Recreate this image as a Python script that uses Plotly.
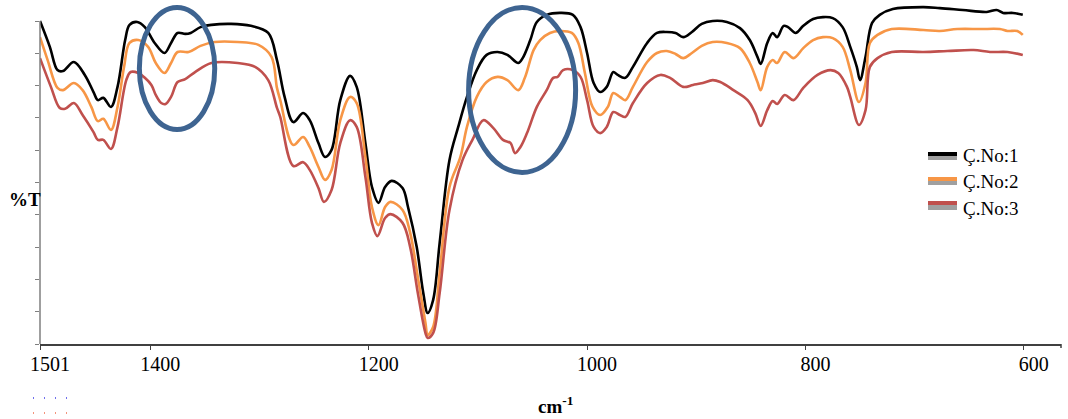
import plotly.graph_objects as go

# ---------------- data (wavenumber cm-1, %T) ----------------
wn1 = [1501,1492,1485,1480,1470,1460,1452,1448,1443,1436,1430,1423,1419,1412,1405,1396,1387,1381,1375,1368,
       1363,1354,1344,1326,1308,1292,1284,1277,1269,1260,1254,1246,1240,1234,1226,1217,1211,1203,1197,1191,
       1185,1179,1169,1164,1156,1150,1146,1141,1135,1126,1118,1110,1101,1092,1082,1073,1063,1059,1052,1046,
       1037,1025,1013,1006,1000,994,988,982,976,972,965,958,945,936,927,919,912,904,895,885,
       872,860,851,844,841,835,830,826,820,816,809,802,793,784,775,766,759,753,750,745,
       739,732,720,692,677,656,634,625,619,610,601]
t1 = [100.0,92.0,84.8,84.5,87.3,83.3,78.0,75.5,76.2,73.4,79.6,94.1,98.8,99.7,98.1,93.2,90.1,93.2,96.3,96.0,
      96.3,98.1,98.8,99.1,98.5,96.3,87.9,76.5,68.7,71.5,69.3,62.2,57.9,60.1,75.5,83.0,79.6,62.2,48.6,43.7,
      48.6,50.5,48.3,42.4,30.0,15.8,9.6,13.6,31.3,57.0,67.2,76.5,84.8,89.5,90.4,89.5,87.0,88.5,94.1,99.7,
      101.9,102.5,101.9,98.1,90.1,80.8,78.0,79.6,84.2,83.3,82.4,85.8,93.2,96.3,96.6,96.3,95.0,96.6,99.1,100.0,
      99.7,97.8,94.1,88.9,86.7,93.2,96.3,95.0,98.5,98.1,96.3,98.5,100.6,101.2,100.9,98.1,92.0,85.8,81.7,88.9,
      99.4,101.9,103.7,104.3,104.0,103.4,102.8,103.4,102.5,102.5,101.9]

wn2 = [1501,1494,1485,1480,1470,1462,1454,1448,1443,1436,1430,1424,1419,1411,1402,1395,1387,1381,1375,1365,
       1354,1341,1320,1301,1289,1284,1281,1269,1260,1254,1246,1240,1234,1226,1217,1211,1203,1197,1191,1185,
       1180,1169,1162,1155,1148,1146,1141,1135,1126,1116,1110,1101,1092,1082,1073,1063,1057,1049,1043,1034,
       1025,1014,1008,1002,995,988,981,976,970,965,958,945,936,927,919,912,904,895,885,872,
       860,851,844,841,835,830,826,819,811,802,793,784,775,766,759,751,745,741,734,721,
       692,677,661,640,622,615,606,601]
t2 = [95.0,87.9,79.3,78.6,80.8,78.6,73.4,69.0,69.7,66.3,73.4,85.8,93.2,94.1,92.0,87.0,83.9,87.0,90.4,90.4,
      92.3,93.5,93.5,92.6,88.9,79.3,75.5,61.6,64.1,61.0,54.8,50.8,53.9,69.3,76.5,74.6,57.9,42.4,36.8,42.4,
      44.0,41.5,34.4,20.7,6.5,2.8,5.3,22.0,48.6,57.9,67.2,76.5,81.1,82.7,81.7,78.6,82.4,91.0,94.1,96.3,
      96.9,96.3,93.2,83.9,73.4,70.9,73.4,77.7,76.5,75.5,79.6,87.3,90.1,90.7,89.8,88.5,90.1,92.3,93.5,93.2,
      91.6,87.0,81.1,78.6,85.8,87.9,87.0,90.4,88.5,91.6,94.1,95.0,94.7,92.0,84.8,74.9,80.8,93.2,95.7,97.5,
      97.2,96.9,97.5,97.5,97.5,96.9,96.9,95.7]

wn3 = [1501,1491,1483,1478,1470,1462,1452,1448,1443,1436,1430,1422,1418,1411,1405,1399,1395,1390,1386,1381,
       1375,1368,1359,1344,1320,1304,1292,1284,1281,1269,1260,1254,1246,1241,1234,1226,1217,1211,1203,1197,
       1192,1185,1180,1169,1162,1155,1148,1146,1141,1135,1126,1114,1105,1095,1086,1077,1070,1066,1061,1055,
       1046,1037,1031,1027,1022,1013,1006,1000,994,988,982,976,970,965,958,945,933,924,912,903,
       894,885,878,866,853,846,841,835,830,826,819,811,802,789,777,770,762,759,751,745,
       741,734,721,692,670,646,631,615,601]
t3 = [88.5,79.6,73.1,72.8,74.6,70.9,65.6,63.2,63.2,60.4,67.2,81.7,84.2,83.9,82.4,80.2,77.1,74.6,74.3,76.5,
      81.1,82.0,84.2,87.0,87.0,85.8,81.7,73.1,70.3,55.1,56.3,53.9,48.3,44.0,47.7,62.2,69.3,67.2,51.7,37.5,
      33.4,39.0,40.2,37.5,30.0,15.8,3.4,1.9,3.4,15.8,41.5,57.0,63.2,69.3,66.9,63.2,62.2,59.1,61.0,65.3,
      73.4,78.6,82.4,82.7,84.8,84.8,82.7,75.5,67.2,65.3,67.2,71.8,70.9,70.3,74.6,80.8,83.3,82.4,79.6,80.2,
      80.8,81.7,81.1,78.6,75.5,71.5,67.5,72.4,75.2,74.3,77.1,75.5,79.3,83.3,84.8,83.9,79.6,76.5,67.8,72.4,
      85.8,88.5,90.4,90.4,90.7,91.0,90.4,90.4,89.5]

series_names = ["Ç.No:1", "Ç.No:2", "Ç.No:3"]
series_colors = ["#000000", "#F79646", "#C0504D"]
tick_vals = [1501, 1400, 1200, 1000, 800, 600]

SERIF = "'Liberation Serif', 'DejaVu Serif', serif"

# ---------------- layout geometry ----------------
W, H = 1068, 419
ML, MR, MT, MB = 40, 7, 0, 75
X_RANGE = [1501, 566]
Y_RANGE = [0, 106.5]
PW, PH = W - ML - MR, H - MT - MB

def px_x(px):
    return (px - ML) / PW

def px_y(py):
    return (H - MB - py) / PH

fig = go.Figure()
for wn, t, name, col in zip([wn1, wn2, wn3], [t1, t2, t3], series_names, series_colors):
    fig.add_trace(go.Scatter(x=wn, y=t, mode="lines", name=name,
                             line=dict(color=col, width=2.6, shape="spline", smoothing=1.0),
                             showlegend=False))

shapes = []
# y axis line only spanning 0..100
shapes.append(dict(type="line", xref="paper", yref="y", x0=0, x1=0, y0=0, y1=100,
                   line=dict(color="#7f7f7f", width=1.5)))
# end tick of the x axis
shapes.append(dict(type="line", xref="paper", yref="paper", x0=1, x1=1, y0=0, y1=-4 / PH,
                   line=dict(color="#404040", width=1.5)))
# highlight ellipses
shapes.append(dict(type="circle", xref="x", yref="y", x0=1410, x1=1341, y0=66.4, y1=104.2,
                   line=dict(color="#3E6491", width=5)))
shapes.append(dict(type="circle", xref="x", yref="y", x0=1108.5, x1=1010.5, y0=53.1, y1=104.2,
                   line=dict(color="#3E6491", width=5)))

# custom legend
annotations = []
leg = [(152, 156, 160, 155), (177, 181, 185, 181), (201, 205, 210, 208)]
for (a, b, c, ty), name, col in zip(leg, series_names, series_colors):
    shapes.append(dict(type="rect", xref="paper", yref="paper", x0=px_x(928), x1=px_x(957),
                       y0=px_y(b), y1=px_y(c), fillcolor="#A0A0A0", line=dict(width=0)))
    shapes.append(dict(type="rect", xref="paper", yref="paper", x0=px_x(928), x1=px_x(957),
                       y0=px_y(a), y1=px_y(b), fillcolor=col, line=dict(width=0)))
    annotations.append(dict(xref="paper", yref="paper", x=px_x(961), y=px_y(ty), text=name,
                            showarrow=False, xanchor="left", yanchor="middle",
                            font=dict(family=SERIF, size=19, color="#000000")))

# small dotted marks bottom-left
shapes.append(dict(type="line", xref="paper", yref="paper", x0=px_x(33), x1=px_x(67),
                   y0=px_y(398), y1=px_y(398), line=dict(color="#4040e8", width=1.5, dash="1px,10px")))
shapes.append(dict(type="line", xref="paper", yref="paper", x0=px_x(33), x1=px_x(67),
                   y0=px_y(413), y1=px_y(413), line=dict(color="#f07050", width=1.5, dash="1px,10px")))

annotations.append(dict(xref="paper", yref="y", x=px_x(25), y=44.6, text="<b>%T</b>",
                        showarrow=False, xanchor="center", yanchor="middle",
                        font=dict(family=SERIF, size=19, color="#000000")))
annotations.append(dict(xref="paper", yref="paper", x=px_x(555), y=px_y(405),
                        text="<b>cm<sup>-1</sup></b>", showarrow=False, xanchor="center",
                        yanchor="middle",
                        font=dict(family=SERIF, size=19, color="#000000")))

fig.update_layout(
    width=W, height=H,
    font=dict(family=SERIF),
    margin=dict(l=ML, r=MR, t=MT, b=MB, pad=0),
    paper_bgcolor="white", plot_bgcolor="white",
    shapes=shapes, annotations=annotations,
    xaxis=dict(range=X_RANGE, tickvals=tick_vals,
               ticktext=[str(v) for v in tick_vals], ticklabelshift=-10, ticklabelstandoff=-3,
               showgrid=False, zeroline=False, showline=True, linecolor="#404040", linewidth=1.5,
               ticks="outside", ticklen=4, tickcolor="#404040",
               tickfont=dict(family=SERIF, size=20, color="#000000")),
    yaxis=dict(range=Y_RANGE, tickvals=list(range(0, 101, 10)), showticklabels=False,
               showgrid=False, zeroline=False, showline=False,
               ticks="outside", ticklen=4, tickcolor="#7f7f7f"),
)

fig.write_html("out.html")
